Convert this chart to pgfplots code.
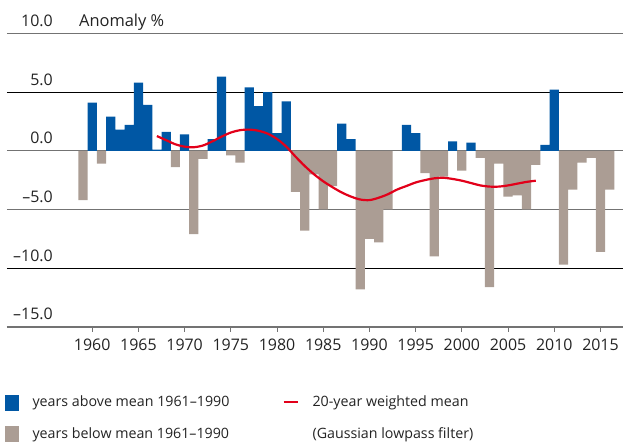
\documentclass[border=0pt]{standalone}
\usepackage{fontspec}
\setmainfont{Open Sans}
\usepackage{pgfplots}
\usepackage{pgfplotstable}
\pgfplotsset{compat=1.18}

\definecolor{barblue}{RGB}{0,87,164}
\definecolor{bargray}{RGB}{171,157,148}
\definecolor{trendred}{RGB}{226,0,26}
\definecolor{txt}{RGB}{35,35,35}
\definecolor{gridgray}{RGB}{115,115,115}

% years above the 1961-1990 mean
\pgfplotstableread{
year val
1960 4.1
1962 2.9
1963 1.8
1964 2.2
1965 5.8
1966 3.9
1967 0.1
1968 1.6
1970 1.4
1973 1.0
1974 6.3
1977 5.4
1978 3.8
1979 5.0
1980 1.5
1981 4.2
1987 2.3
1988 1.0
1994 2.2
1995 1.5
1999 0.8
2001 0.7
2009 0.5
2010 5.2
}\above

% years below the 1961-1990 mean
\pgfplotstableread{
year val
1959 -4.2
1961 -1.1
1969 -1.4
1971 -7.1
1972 -0.7
1975 -0.4
1976 -1.0
1982 -3.5
1983 -6.8
1984 -2.0
1985 -5.0
1986 -3.0
1989 -11.8
1990 -7.5
1991 -7.8
1992 -5.0
1996 -1.9
1997 -9.0
1998 -2.2
2000 -1.7
2002 -0.6
2003 -11.6
2004 -1.1
2005 -3.9
2006 -3.8
2007 -5.0
2008 -1.2
2011 -9.7
2012 -3.3
2013 -1.0
2014 -0.6
2015 -8.6
2016 -3.3
}\below

% 20-year weighted mean (Gaussian lowpass)
\pgfplotstableread{
year val
1967 1.25
1968 0.90
1969 0.55
1970 0.35
1971 0.30
1972 0.45
1973 0.80
1974 1.20
1975 1.55
1976 1.75
1977 1.80
1978 1.70
1979 1.45
1980 1.00
1981 0.35
1982 -0.50
1983 -1.30
1984 -2.00
1985 -2.60
1986 -3.10
1987 -3.55
1988 -3.90
1989 -4.15
1990 -4.20
1991 -4.00
1992 -3.70
1993 -3.30
1994 -3.00
1995 -2.70
1996 -2.50
1997 -2.35
1998 -2.30
1999 -2.40
2000 -2.55
2001 -2.75
2002 -2.95
2003 -3.05
2004 -3.05
2005 -2.95
2006 -2.80
2007 -2.65
2008 -2.55
}\trend

\begin{document}
\begin{tikzpicture}[font=\fontsize{16}{19}\selectfont, text=txt]
\begin{axis}[
  scale only axis, width=617bp, height=294bp,
  xmin=1950.78, xmax=2017.48, ymin=-15, ymax=10,
  axis x line*=bottom, axis y line*=left,
  y axis line style={draw=none},
  x axis line style={draw=gridgray, line width=1.2bp, -},
  tick align=outside, major tick length=5bp,
  xtick={1960,1965,1970,1975,1980,1985,1990,1995,2000,2005,2010,2015},
  xticklabels={1960,1965,1970,1975,1980,1985,1990,1995,2000,2005,2010,2015},
  xtick style={draw=gridgray, line width=1bp},
  xticklabel style={inner sep=0pt, anchor=north, yshift=-7bp},
  ytick={-15,-5,0,10},
  yticklabels={–15.0,–5.0,0.0,10.0},
  extra y ticks={-10,5},
  extra y tick labels={–10.0,5.0},
  extra y tick style={ymajorgrids=true, major grid style={black, line width=0.8bp}},
  ytick style={draw=none},
  yticklabel style={anchor=base east, inner sep=0pt, xshift=51bp, yshift=7bp},
  ymajorgrids, major grid style={gridgray, line width=1.2bp},
  legend columns=2,
  legend cell align=left,
  legend style={at={(0,0)}, anchor=north west, xshift=-2bp, yshift=-67bp,
    font=\fontsize{14.3}{17}\selectfont,
    draw=none, fill=none, inner sep=0pt, row sep=15bp,
    /tikz/every odd column/.append style={column sep=12bp},
    /tikz/every even column/.append style={column sep=51bp}},
]
\addlegendimage{legend image code/.code={\fill[barblue] (0bp,-7.5bp) rectangle (13bp,7.5bp);}}
\addlegendentry{years above mean 1961–1990}
\addlegendimage{legend image code/.code={\draw[trendred, line width=2.2bp] (0bp,0bp) -- (14bp,0bp);}}
\addlegendentry{20-year weighted mean}
\addlegendimage{legend image code/.code={\fill[bargray] (0bp,-7.5bp) rectangle (13bp,7.5bp);}}
\addlegendentry{years below mean 1961–1990}
\addlegendimage{empty legend}
\addlegendentry{(Gaussian lowpass filter)}

\addplot[ybar, bar width=1, bar shift=0pt, fill=barblue, draw=none, forget plot] table[x=year, y=val] {\above};
\addplot[ybar, bar width=1, bar shift=0pt, fill=bargray, draw=none, forget plot] table[x=year, y=val] {\below};
\addplot[trendred, line width=2.2bp, smooth, tension=0.5, mark=none, forget plot] table[x=year, y=val] {\trend};
\end{axis}
\node[anchor=base west, inner sep=0pt, font=\fontsize{16.5}{19}\selectfont] at ([xshift=72bp, yshift=7bp]current axis.north west) {Anomaly \%};
\path ([xshift=-7bp, yshift=-115.7bp]current axis.south west) rectangle ([yshift=33.3bp]current axis.north east);
\end{tikzpicture}
\end{document}
